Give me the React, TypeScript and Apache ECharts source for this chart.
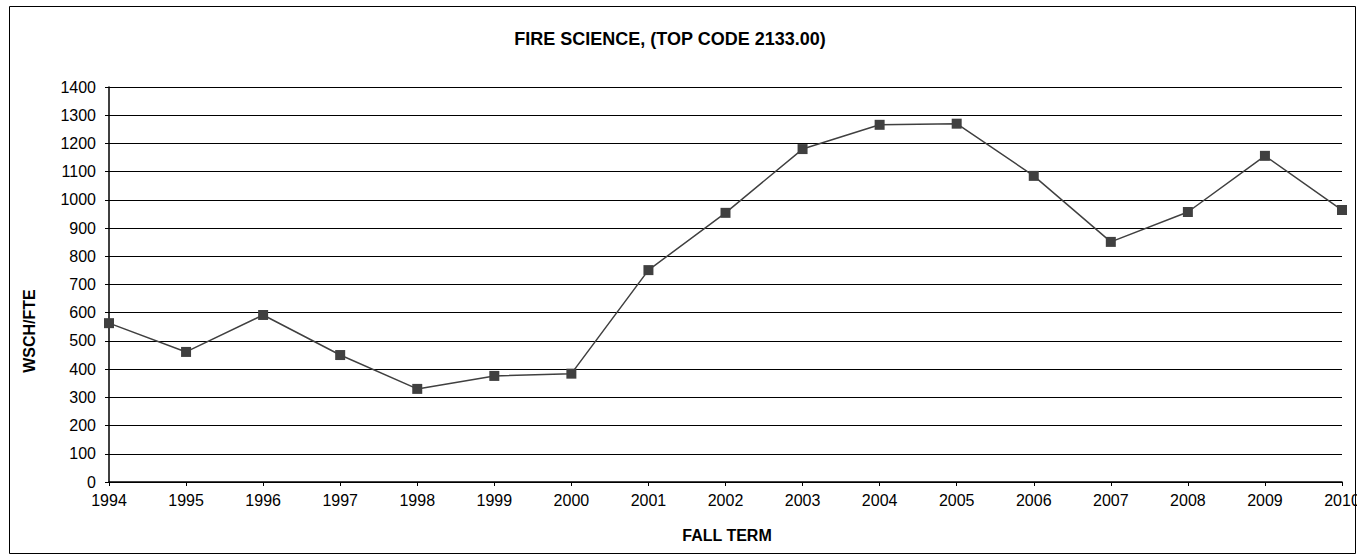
import React, { useEffect, useRef } from "react";
import * as echarts from "echarts";

const years = ["1994","1995","1996","1997","1998","1999","2000","2001","2002","2003","2004","2005","2006","2007","2008","2009","2010"];
const wschFte = [563, 461, 592, 450, 330, 376, 384, 751, 954, 1180, 1266, 1270, 1085, 851, 957, 1156, 964];
const titleText = "FIRE SCIENCE, (TOP CODE 2133.00)";
const yName = "WSCH/FTE";
const xName = "FALL TERM";

export default function App() {
  const ref = useRef<HTMLDivElement>(null);
  useEffect(() => {
    document.body.style.margin = "0";
    const chart = echarts.init(ref.current!, undefined, { renderer: "svg" });
    const font = "Liberation Sans, Arial, sans-serif";
    chart.setOption({
      animation: false,
      backgroundColor: "#ffffff",
      graphic: [
        {
          type: "rect",
          shape: { x: 9.5, y: 6.5, width: 1346, height: 547 },
          style: { fill: "none", stroke: "#000", lineWidth: 1 },
          silent: true,
        },
        {
          type: "text",
          x: 670,
          y: 39,
          style: { text: titleText, font: "bold 18px Liberation Sans, Arial, sans-serif", fill: "#000", align: "center", verticalAlign: "middle" },
        },
        {
          type: "text",
          x: 29,
          y: 331,
          rotation: Math.PI / 2,
          style: { text: yName, font: "bold 16px Liberation Sans, Arial, sans-serif", fill: "#000", align: "center", verticalAlign: "middle" },
        },
        {
          type: "text",
          x: 727,
          y: 535,
          style: { text: xName, font: "bold 16px Liberation Sans, Arial, sans-serif", fill: "#000", align: "center", verticalAlign: "middle" },
        },
      ],
      grid: { left: 109, right: 15, top: 87, bottom: 73, containLabel: false, outerBoundsMode: "none" },
      xAxis: {
        type: "category",
        data: years,
        boundaryGap: false,
        axisLine: { lineStyle: { color: "#000", width: 1.5 } },
        axisTick: { show: true, length: 4, lineStyle: { color: "#000" }, alignWithLabel: true },
        axisLabel: { fontFamily: font, fontSize: 16, color: "#000", margin: 10, interval: 0 },
        splitLine: { show: false },
      },
      yAxis: {
        type: "value",
        min: 0,
        max: 1400,
        interval: 100,
        axisLine: { show: true, lineStyle: { color: "#000", width: 1.5 } },
        axisTick: { show: true, length: 4, lineStyle: { color: "#000" } },
        axisLabel: { fontFamily: font, fontSize: 16, color: "#000", margin: 13, formatter: (v: number) => String(v) },
        splitLine: { show: true, lineStyle: { color: "#000", width: 1 } },
      },
      series: [
        {
          type: "line",
          data: wschFte,
          symbol: "rect",
          symbolSize: 10,
          itemStyle: { color: "#404040" },
          lineStyle: { color: "#404040", width: 1.5 },
        },
      ],
    });
    return () => chart.dispose();
  }, []);
  return <div ref={ref} style={{ width: 1357, height: 555 }} />;
}
